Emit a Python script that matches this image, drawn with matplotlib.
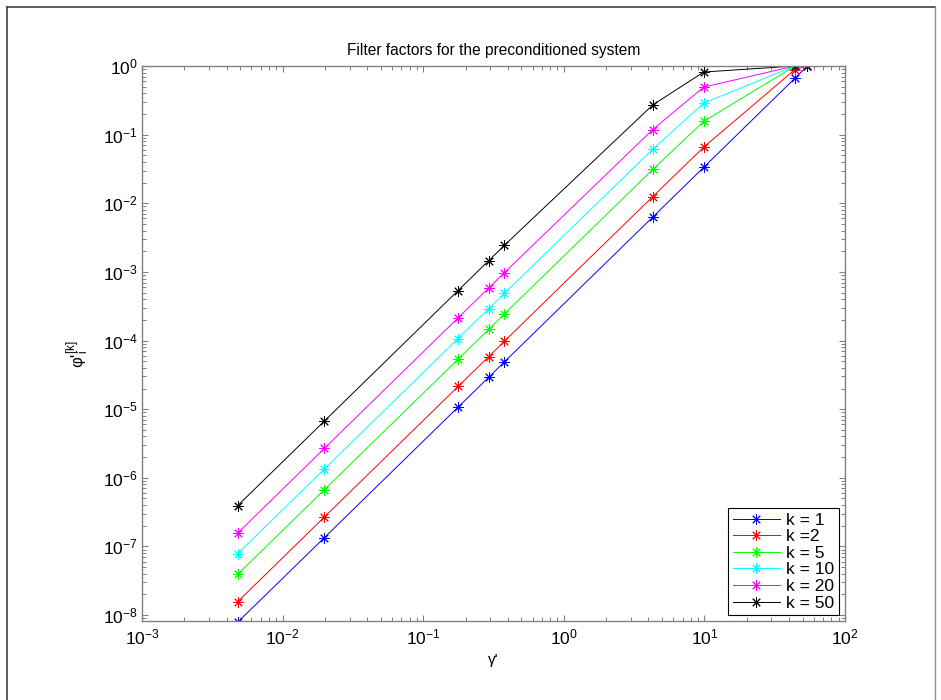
import numpy as np
import matplotlib
matplotlib.use('Agg')
import matplotlib.pyplot as plt
import matplotlib.ticker as ticker
from matplotlib.lines import Line2D

plt.rcParams['font.family'] = ['Liberation Sans', 'DejaVu Sans']
plt.rcParams['mathtext.fontset'] = 'custom'
plt.rcParams['mathtext.rm'] = 'Liberation Sans'
plt.rcParams['mathtext.it'] = 'Liberation Sans:italic'
plt.rcParams['mathtext.default'] = 'regular'
plt.rcParams['axes.unicode_minus'] = False

# singular values (gamma')
gamma = [0.0048, 0.0198, 0.177, 0.292, 0.377, 4.29, 9.89, 43.9, 54.1]

# filter factors per iteration count k
phi_k1 = [7.9e-9, 1.34e-7, 1.07e-5, 2.91e-5, 4.86e-5, 6.29e-3, 0.0334, 0.659, 1.0]
phi_k2 = [1.57e-8, 2.68e-7, 2.14e-5, 5.82e-5, 9.72e-5, 0.0125, 0.0657, 0.883, 1.0]
phi_k5 = [3.94e-8, 6.7e-7, 5.35e-5, 1.455e-4, 2.43e-4, 0.0311, 0.156, 0.995, 1.0]
phi_k10 = [7.87e-8, 1.34e-6, 1.07e-4, 2.91e-4, 4.85e-4, 0.0612, 0.288, 1.0, 1.0]
phi_k20 = [1.57e-7, 2.68e-6, 2.14e-4, 5.82e-4, 9.7e-4, 0.1186, 0.493, 1.0, 1.0]
phi_k50 = [3.94e-7, 6.7e-6, 5.35e-4, 1.454e-3, 2.427e-3, 0.2706, 0.817, 1.0, 1.0]

series = [phi_k1, phi_k2, phi_k5, phi_k10, phi_k20, phi_k50]
labels = ['k = 1', 'k =2', 'k = 5', 'k = 10', 'k = 20', 'k = 50']
colors = ['#0000ff', '#ff0000', '#00ff00', '#00ffff', '#ff00ff', '#000000']

fig = plt.figure(figsize=(9.41, 7.0), dpi=100)
ax = fig.add_axes([142 / 941, 1 - 621 / 700, 703 / 941, 555 / 700])

for vals, lab, col in zip(series, labels, colors):
    ax.plot(gamma, vals, '-', color=col, lw=0.7, marker=(8, 2, 0),
            markersize=7.5, markeredgewidth=0.7, label=lab)

ax.set_xscale('log')
ax.set_yscale('log')
ax.set_xlim(1e-3, 1e2)
ax.set_ylim(8.2e-9, 1)

for axis in (ax.xaxis, ax.yaxis):
    axis.set_major_locator(ticker.LogLocator(base=10, numticks=20))
    axis.set_minor_locator(ticker.LogLocator(base=10, subs=np.arange(2, 10), numticks=20))
    axis.set_major_formatter(ticker.LogFormatterSciNotation())
    axis.set_minor_formatter(ticker.NullFormatter())

axcol = '#808080'
for sp in ax.spines.values():
    sp.set_color(axcol)
    sp.set_linewidth(1.0)
ax.tick_params(which='both', direction='in', top=True, right=True,
               color=axcol, labelcolor='black', labelsize=12.5)
ax.tick_params(which='major', length=4.3, width=0.8)
ax.tick_params(which='minor', length=2.8, width=0.7)
ax.tick_params(axis='x', pad=5)
ax.tick_params(axis='y', pad=3)

ax.set_title('Filter factors for the preconditioned system', fontsize=11.2, pad=8)
ax.set_xlabel("γ'", fontsize=11)
ax.set_ylabel(r"φ'$_i^{[k]}$", fontsize=12)
ax.xaxis.set_label_coords(0.5, -0.058)
ax.yaxis.set_label_coords(-0.072, 0.48)

leg = ax.legend(loc='lower right', fontsize=12.5, handlelength=2.7, handletextpad=0.4,
                borderpad=0.25, labelspacing=0.08, borderaxespad=0.35, numpoints=1,
                fancybox=False, framealpha=1, edgecolor='black')
leg.get_frame().set_linewidth(0.8)

# frame of the window the figure was captured from
fig.add_artist(Line2D([7 / 941, 7 / 941], [0, 1 - 7 / 700], transform=fig.transFigure,
                      color='#404040', lw=1.2))
fig.add_artist(Line2D([7 / 941, 935 / 941], [1 - 7 / 700, 1 - 7 / 700],
                      transform=fig.transFigure, color='#404040', lw=1.2))
fig.add_artist(Line2D([935 / 941, 935 / 941], [0, 1 - 7 / 700], transform=fig.transFigure,
                      color='#909090', lw=1.0))

fig.savefig('out.png', dpi=100)
